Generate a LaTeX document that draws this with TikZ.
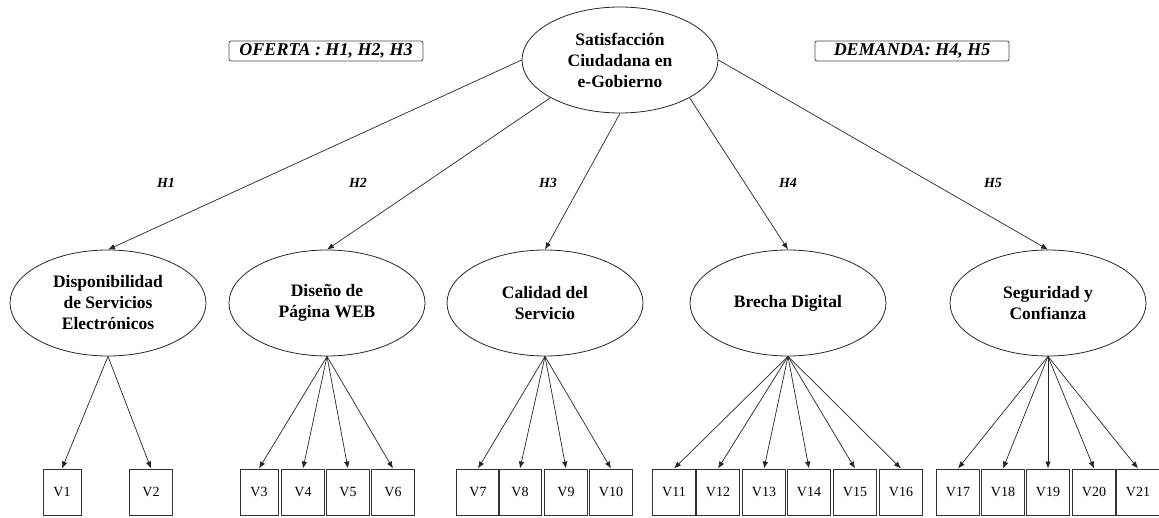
\documentclass[tikz,border=0pt]{standalone}
\usepackage{fontspec}
\setmainfont{Liberation Serif}
\usetikzlibrary{shapes.geometric,arrows.meta}

\begin{document}
\begin{tikzpicture}[x=1pt,y=-1pt,
  construct/.style={draw=black!85,line width=0.8pt,ellipse,minimum width=196pt,minimum height=106pt,
    inner sep=0pt,align=center,font=\fontsize{17.5}{21}\selectfont\bfseries},
  item/.style={draw=black!80,line width=0.9pt,rectangle,minimum width=43pt,minimum height=46pt,
    inner sep=0pt,font=\fontsize{14}{16}\selectfont},
  group/.style={draw=black!70,line width=0.8pt,rounded corners=2pt,minimum width=194pt,minimum height=20pt,
    inner sep=0pt,font=\fontsize{18}{20}\selectfont\bfseries\itshape},
  hyp/.style={font=\fontsize{14}{16}\selectfont\bfseries\itshape},
  link/.style={draw=black!85,line width=0.7pt,-{Latex[length=7pt,width=5.5pt]}}]

\useasboundingbox (0,0) rectangle (1159,518);

% central construct
\node[construct] (sat) at (620,60) {Satisfacción\\Ciudadana en\\e-Gobierno};

% group labels
\node[group] (oferta) at (326,51) {OFERTA : H1, H2, H3};
\node[group] (demanda) at (912,51) {DEMANDA: H4, H5};

% first-order constructs
\node[construct] (disp) at (108,303) {Disponibilidad\\de Servicios\\Electrónicos};
\node[construct] (dis) at (327,303) {Diseño de\\Página WEB};
\node[construct] (cal) at (545,303) {Calidad del\\Servicio};
\node[construct] (bre) at (788,303) {Brecha Digital};
\node[construct] (seg) at (1048,303) {Seguridad y\\Confianza};

% hypotheses
\draw[link] (sat.west) -- (disp.north);
\draw[link] (sat.south west) -- (dis.north);
\draw[link] (sat.south) -- (cal.north);
\draw[link] (sat.south east) -- (bre.north);
\draw[link] (sat.east) -- (seg.north);

\node[hyp] (h1) at (166,183) {H1};
\node[hyp] (h2) at (358,183) {H2};
\node[hyp] (h3) at (548,183) {H3};
\node[hyp] (h4) at (788,183) {H4};
\node[hyp] (h5) at (993,183) {H5};

% observed variables
\node[item,minimum width=38pt] (v1) at (62,492) {V1};
\node[item] (v2) at (151,492) {V2};
\node[item,minimum width=38pt] (v3) at (259,492) {V3};
\foreach \n/\x in {4/303,5/348,6/393,7/478,8/520,9/566,10/611,
                   11/674,12/718,13/764,14/809,15/855,16/901,
                   17/958,18/1003,19/1048,20/1094,21/1138}
  \node[item] (v\n) at (\x,492) {V\n};

\foreach \n in {1,2} \draw[link] (disp.south) -- (v\n.north);
\foreach \n in {3,...,6} \draw[link] (dis.south) -- (v\n.north);
\foreach \n in {7,...,10} \draw[link] (cal.south) -- (v\n.north);
\foreach \n in {11,...,16} \draw[link] (bre.south) -- (v\n.north);
\foreach \n in {17,...,21} \draw[link] (seg.south) -- (v\n.north);

\end{tikzpicture}
\end{document}
